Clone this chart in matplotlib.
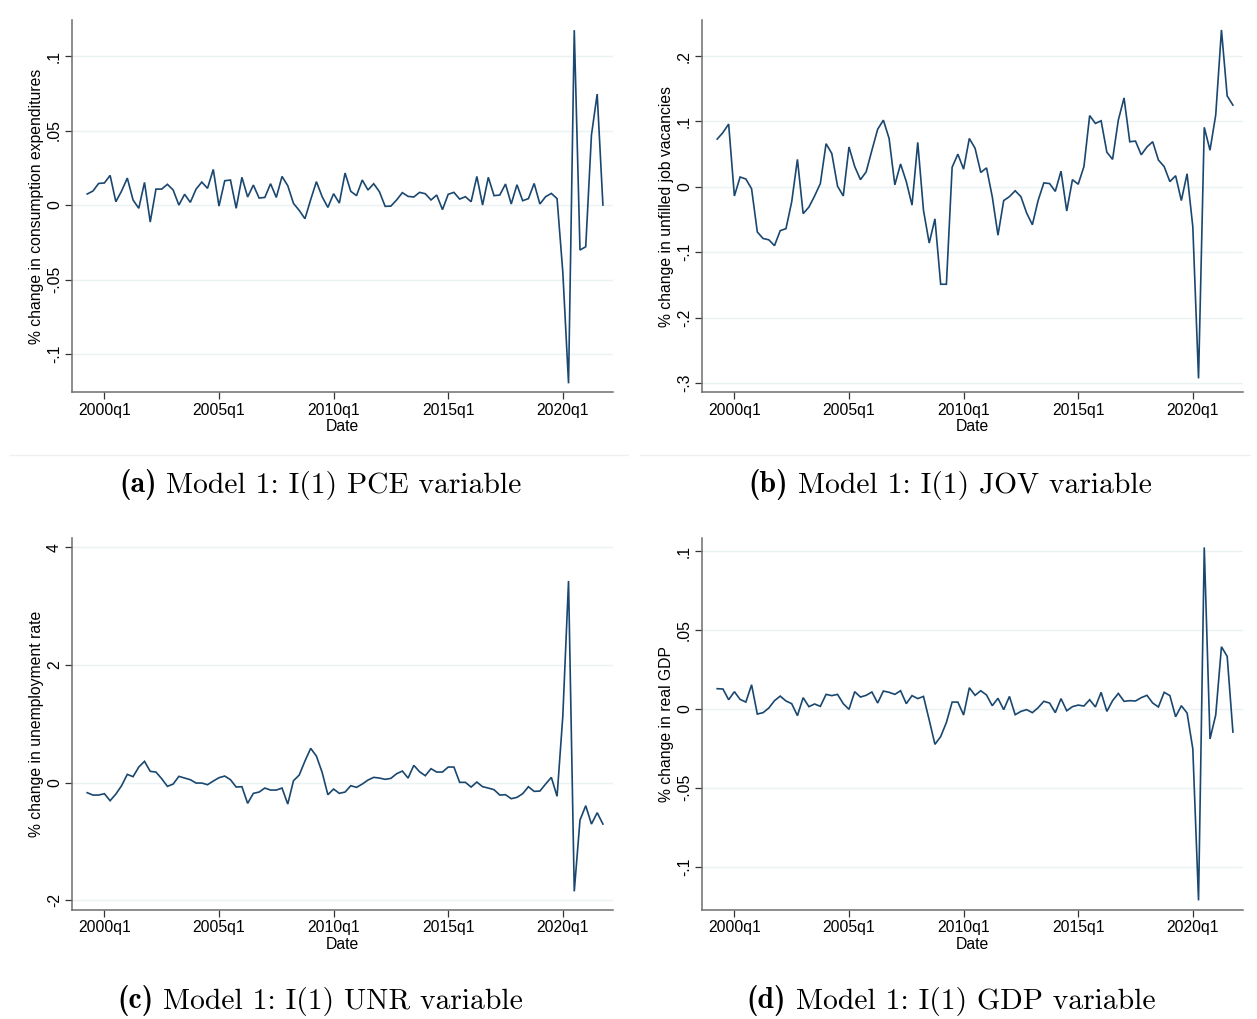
import matplotlib
matplotlib.use("Agg")
import matplotlib.pyplot as plt
from matplotlib.lines import Line2D
import numpy as np
import pandas as pd

# Quarterly sample 1999q2 - 2021q4 (first differences of log levels)
quarters = pd.period_range("1999Q2", "2021Q4", freq="Q")

pce = [0.0074, 0.0094, 0.0145, 0.0148, 0.0199, 0.0022, 0.0094, 0.0181, 0.0034, -0.0022,
       0.0152, -0.0114, 0.0107, 0.0107, 0.0139, 0.0101, 0.0000, 0.0072, 0.0018, 0.0107,
       0.0154, 0.0112, 0.0239, -0.0007, 0.0163, 0.0168, -0.0022, 0.0186, 0.0054, 0.0134,
       0.0047, 0.0051, 0.0143, 0.0051, 0.0192, 0.0130, 0.0011, -0.0036, -0.0092, 0.0036,
       0.0157, 0.0056, -0.0016, 0.0076, 0.0013, 0.0215, 0.0092, 0.0063, 0.0168, 0.0101,
       0.0143, 0.0089, -0.0009, -0.0007, 0.0034, 0.0083, 0.0058, 0.0054, 0.0085, 0.0076,
       0.0034, 0.0067, -0.0031, 0.0072, 0.0085, 0.0040, 0.0056, 0.0022, 0.0192, 0.0000,
       0.0186, 0.0063, 0.0067, 0.0141, 0.0007, 0.0136, 0.0029, 0.0043, 0.0145, 0.0007,
       0.0056, 0.0078, 0.0043, -0.0450, -0.1197, 0.1174, -0.0302, -0.0280, 0.0470, 0.0745,
       0.0000]

jov = [0.073, 0.083, 0.096, -0.014, 0.015, 0.012, -0.003, -0.069, -0.079, -0.081,
       -0.090, -0.067, -0.064, -0.023, 0.042, -0.041, -0.031, -0.014, 0.005, 0.066,
       0.051, 0.001, -0.014, 0.061, 0.031, 0.011, 0.023, 0.056, 0.088, 0.102,
       0.074, 0.003, 0.035, 0.008, -0.028, 0.068, -0.036, -0.086, -0.049, -0.149,
       -0.149, 0.030, 0.050, 0.027, 0.074, 0.059, 0.022, 0.029, -0.015, -0.074,
       -0.021, -0.015, -0.006, -0.015, -0.040, -0.058, -0.021, 0.006, 0.005, -0.007,
       0.024, -0.037, 0.011, 0.004, 0.031, 0.109, 0.097, 0.101, 0.053, 0.042,
       0.102, 0.136, 0.069, 0.070, 0.049, 0.061, 0.069, 0.041, 0.031, 0.008,
       0.017, -0.021, 0.020, -0.061, -0.293, 0.091, 0.056, 0.110, 0.240, 0.139,
       0.125]

unr = [-0.170, -0.210, -0.210, -0.187, -0.306, -0.193, -0.051, 0.142, 0.102, 0.266,
       0.363, 0.193, 0.181, 0.068, -0.062, -0.023, 0.108, 0.079, 0.051, -0.006,
       -0.006, -0.034, 0.028, 0.085, 0.113, 0.051, -0.074, -0.068, -0.351, -0.181,
       -0.159, -0.091, -0.125, -0.125, -0.091, -0.363, 0.034, 0.130, 0.368, 0.584,
       0.453, 0.176, -0.204, -0.108, -0.181, -0.159, -0.051, -0.079, -0.023, 0.045,
       0.091, 0.079, 0.057, 0.074, 0.153, 0.198, 0.079, 0.295, 0.187, 0.119,
       0.238, 0.181, 0.181, 0.266, 0.266, 0.006, 0.006, -0.074, 0.011, -0.068,
       -0.091, -0.119, -0.210, -0.204, -0.272, -0.249, -0.187, -0.068, -0.147, -0.142,
       -0.023, 0.091, -0.232, 1.130, 3.430, -1.847, -0.635, -0.391, -0.703, -0.510,
       -0.703]

gdp = [0.0129, 0.0127, 0.0059, 0.0110, 0.0061, 0.0044, 0.0154, -0.0032, -0.0023, 0.0006,
       0.0053, 0.0082, 0.0051, 0.0034, -0.0042, 0.0072, 0.0015, 0.0032, 0.0017, 0.0093,
       0.0085, 0.0093, 0.0034, -0.0002, 0.0110, 0.0076, 0.0087, 0.0108, 0.0038, 0.0114,
       0.0106, 0.0093, 0.0116, 0.0034, 0.0085, 0.0066, 0.0080, -0.0070, -0.0224, -0.0175,
       -0.0085, 0.0044, 0.0044, -0.0038, 0.0135, 0.0087, 0.0116, 0.0089, 0.0021, 0.0068,
       -0.0004, 0.0080, -0.0036, -0.0015, -0.0004, -0.0023, 0.0008, 0.0049, 0.0038, -0.0023,
       0.0066, -0.0011, 0.0015, 0.0025, 0.0019, 0.0059, 0.0013, 0.0106, -0.0015, 0.0053,
       0.0099, 0.0049, 0.0053, 0.0051, 0.0072, 0.0087, 0.0038, 0.0013, 0.0106, 0.0085,
       -0.0049, 0.0021, -0.0025, -0.0252, -0.1214, 0.1025, -0.0190, -0.0038, 0.0395, 0.0334,
       -0.0146]

x_tick_years = [2000, 2005, 2010, 2015, 2020]
x_tick_labels = ["2000q1", "2005q1", "2010q1", "2015q1", "2020q1"]

panels = [
    dict(y=pce, ylabel="% change in consumption expenditures",
         yticks=[-0.1, -0.05, 0, 0.05, 0.1], ytl=["-.1", "-.05", "0", ".05", ".1"],
         ylim=(-0.1257, 0.1242), caption="(a)", text="Model 1: I(1) PCE variable"),
    dict(y=jov, ylabel="% change in unfilled job vacancies",
         yticks=[-0.3, -0.2, -0.1, 0, 0.1, 0.2], ytl=["-.3", "-.2", "-.1", "0", ".1", ".2"],
         ylim=(-0.3143, 0.2552), caption="(b)", text="Model 1: I(1) JOV variable"),
    dict(y=unr, ylabel="% change in unemployment rate",
         yticks=[-2, 0, 2, 4], ytl=["-2", "0", "2", "4"],
         ylim=(-2.164, 4.16), caption="(c)", text="Model 1: I(1) UNR variable"),
    dict(y=gdp, ylabel="% change in real GDP",
         yticks=[-0.1, -0.05, 0, 0.05, 0.1], ytl=["-.1", "-.05", "0", ".05", ".1"],
         ylim=(-0.1275, 0.1085), caption="(d)", text="Model 1: I(1) GDP variable"),
]

W, H = 1257, 1019
fig = plt.figure(figsize=(W / 100, H / 100), dpi=100)

boxes = [(72.3, 613, 20, 392.3), (702.3, 1243, 20, 392.3),
         (72.3, 613, 538, 910), (702.3, 1243, 538, 910)]
caption_pos = [(320.5, 485), (950, 485), (320, 1001), (951, 1001)]

xs = np.array([q.year + (q.quarter - 1) / 4 for q in quarters])
line_color = "#1a476f"
grid_color = "#eaf2f3"
axis_color = "#6e6e6e"
label_size = 11.3
caption_size = 21.3

renderer = fig.canvas.get_renderer()

for p, (x0, x1, yt, yb), (cx, cy) in zip(panels, boxes, caption_pos):
    ax = fig.add_axes([x0 / W, 1 - yb / H, (x1 - x0) / W, (yb - yt) / H])
    ax.plot(xs, p["y"], color=line_color, lw=1.2, solid_joinstyle="miter")
    ax.set_xlim(1998.60, 2022.19)
    ax.set_ylim(*p["ylim"])
    ax.set_xticks(x_tick_years)
    ax.set_xticklabels(x_tick_labels)
    ax.set_yticks(p["yticks"])
    ax.set_yticklabels(p["ytl"], rotation=90, va="center")
    for yv in p["yticks"]:
        ax.axhline(yv, color=grid_color, lw=1.0, zorder=0)
    for side in ("top", "right"):
        ax.spines[side].set_visible(False)
    for side in ("left", "bottom"):
        ax.spines[side].set_color(axis_color)
        ax.spines[side].set_linewidth(1.1)
    ax.tick_params(axis="both", direction="out", length=5, width=0.9, color="#333333",
                   labelsize=label_size, labelcolor="#000000", pad=2.5)
    for lab in ax.get_xticklabels() + ax.get_yticklabels():
        lab.set_fontfamily("Liberation Sans")
    ax.set_xlabel("Date", fontfamily="Liberation Sans", fontsize=label_size, labelpad=1)
    ax.set_ylabel(p["ylabel"], fontfamily="Liberation Sans", fontsize=label_size,
                  labelpad=2)

    # sub-figure caption: bold tag followed by the regular description
    t_bold = fig.text(0, 0, p["caption"], fontsize=caption_size, fontfamily="cmb10",
                      va="center", ha="left")
    t_reg = fig.text(0, 0, p["text"], fontsize=caption_size, fontfamily="cmr10",
                     va="center", ha="left")
    w_bold = t_bold.get_window_extent(renderer).width
    w_reg = t_reg.get_window_extent(renderer).width
    gap = 0.33 * caption_size * 100 / 72
    total = w_bold + gap + w_reg
    left = cx - total / 2
    t_bold.set_position((left / W, 1 - cy / H))
    t_reg.set_position(((left + w_bold + gap) / W, 1 - cy / H))

# light separators between the rows of sub-figures
for (a, b) in [(10, 628), (640, 1250)]:
    fig.add_artist(Line2D([a / W, b / W], [1 - 455 / H, 1 - 455 / H],
                          color="#f0f0f0", lw=1.0))

fig.savefig("out.png", dpi=100, facecolor="white")
